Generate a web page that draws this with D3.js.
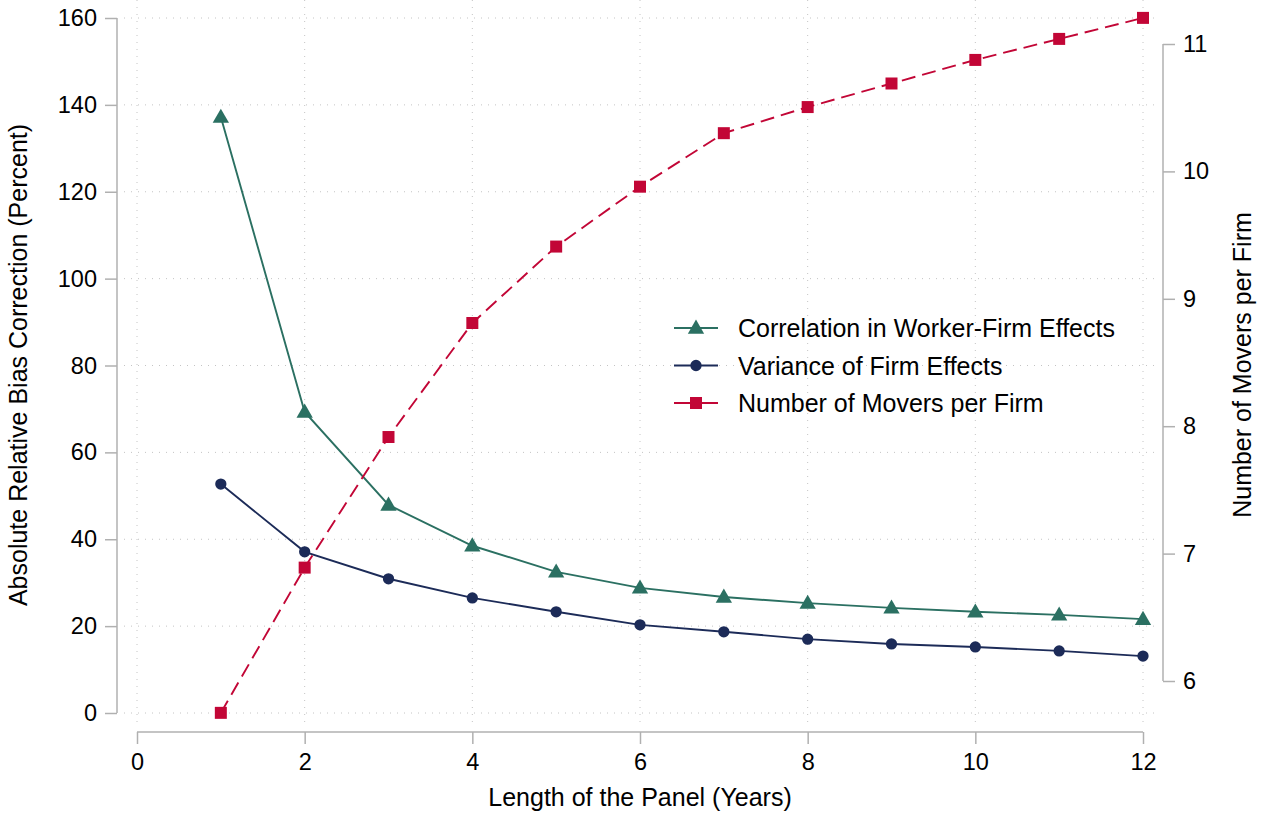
<!DOCTYPE html>
<html>
<head>
<meta charset="utf-8">
<script src="https://cdn.jsdelivr.net/npm/d3@7"></script>
<style>
  html, body { margin: 0; padding: 0; background: #fff; }
  svg { display: block; font-family: "Liberation Sans", Arial, sans-serif; }
</style>
</head>
<body>
<svg id="chart" width="1271" height="819"></svg>
<script>
// Panel length in years
const years = [1, 2, 3, 4, 5, 6, 7, 8, 9, 10, 11, 12];
// Absolute relative bias correction (percent), left axis
const corrWorkerFirm = [137.2, 69.3, 47.9, 38.5, 32.5, 28.8, 26.7, 25.3, 24.2, 23.3, 22.6, 21.6];
const varFirmEffects = [52.7, 37.1, 30.9, 26.5, 23.3, 20.3, 18.7, 17.0, 15.9, 15.2, 14.3, 13.1];
// Number of movers per firm, right axis
const moversPerFirm = [5.75, 6.89, 7.915, 8.81, 9.41, 9.88, 10.30, 10.505, 10.69, 10.875, 11.04, 11.205];

const xTicks = [0, 2, 4, 6, 8, 10, 12];
const yLeftTicks = [0, 20, 40, 60, 80, 100, 120, 140, 160];
const yRightTicks = [6, 7, 8, 9, 10, 11];

const seriesNames = ["Correlation in Worker-Firm Effects", "Variance of Firm Effects", "Number of Movers per Firm"];

const colGreen = "#2b7062", colNavy = "#1c2b58", colRed = "#c20636";
const axisCol = "#b0b0b0", gridCol = "#c4c4c4";
const tickFont = "23.5px", titleFont = "25px";

const svg = d3.select("#chart");

const x = d3.scaleLinear().domain([0, 12]).range([137, 1143]);
const yL = d3.scaleLinear().domain([0, 160]).range([713, 18]);
const yR = d3.scaleLinear().domain([6, 11]).range([681, 44]);

// dotted grid
const grid = svg.append("g");
grid.selectAll("line.h").data(yLeftTicks).join("line")
  .attr("x1", 124).attr("x2", 1160)
  .attr("y1", d => yL(d)).attr("y2", d => yL(d))
  .attr("stroke", gridCol).attr("stroke-width", 1).attr("stroke-dasharray", "1,6");
grid.selectAll("line.v").data(xTicks).join("line")
  .attr("x1", d => x(d)).attr("x2", d => x(d))
  .attr("y1", 0).attr("y2", 726)
  .attr("stroke", gridCol).attr("stroke-width", 1).attr("stroke-dasharray", "1,6");

// axes
function styleAxis(g) {
  g.attr("font-size", null).attr("font-family", null);
  g.select(".domain").attr("stroke", axisCol).attr("stroke-width", 1.5);
  g.selectAll(".tick line").attr("stroke", axisCol).attr("stroke-width", 1.5);
  g.selectAll(".tick text").attr("fill", "#000").style("font-size", tickFont);
}
svg.append("g").attr("transform", "translate(0,732)")
  .call(d3.axisBottom(x).tickValues(xTicks).tickSize(12).tickSizeOuter(0).tickPadding(8))
  .call(styleAxis)
  .call(g => g.select(".domain").attr("d", `M${x(0)},0H${x(12)}`))
  .call(g => g.selectAll(".tick text").attr("dy", null).attr("y", 38));
svg.append("g").attr("transform", "translate(117,0)")
  .call(d3.axisLeft(yL).tickValues(yLeftTicks).tickSize(12).tickSizeOuter(0).tickPadding(8))
  .call(styleAxis)
  .call(g => g.select(".domain").attr("d", `M0,${yL(0)}V${yL(160)}`));
svg.append("g").attr("transform", "translate(1163,0)")
  .call(d3.axisRight(yR).tickValues(yRightTicks).tickFormat(d3.format("d")).tickSize(12).tickSizeOuter(0).tickPadding(8))
  .call(styleAxis)
  .call(g => g.select(".domain").attr("d", `M0,${yR(6)}V${yR(11)}`));

// axis titles
const titleStyle = s => s.attr("fill", "#000").style("font-size", titleFont).attr("text-anchor", "middle");
svg.append("text").attr("x", 640).attr("y", 806).text("Length of the Panel (Years)").call(titleStyle);
svg.append("text").attr("transform", "translate(27,365) rotate(-90)").text("Absolute Relative Bias Correction (Percent)").call(titleStyle);
svg.append("text").attr("transform", "translate(1251,365) rotate(-90)").text("Number of Movers per Firm").call(titleStyle);

// series
const triangle = d3.symbol().type(d3.symbolTriangle).size(115);
const circle = d3.symbol().type(d3.symbolCircle).size(100);
const square = d3.symbol().type(d3.symbolSquare).size(144);

function drawSeries(values, yScale, color, sym, dash, dy) {
  const pts = years.map((yr, i) => [x(yr), yScale(values[i])]);
  svg.append("path").attr("d", d3.line()(pts))
    .attr("fill", "none").attr("stroke", color).attr("stroke-width", 1.9)
    .attr("stroke-dasharray", dash);
  svg.append("g").selectAll("path").data(pts).join("path")
    .attr("transform", d => `translate(${d[0]},${d[1] + dy})`)
    .attr("d", sym).attr("fill", color);
}
drawSeries(corrWorkerFirm, yL, colGreen, triangle, null, 1);
drawSeries(varFirmEffects, yL, colNavy, circle, null, 0);
drawSeries(moversPerFirm, yR, colRed, square, "14,7", 0);

// legend
const legendItems = [
  { name: seriesNames[0], color: colGreen, sym: triangle, dy: 1 },
  { name: seriesNames[1], color: colNavy, sym: circle, dy: 0 },
  { name: seriesNames[2], color: colRed, sym: square, dy: 0 }
];
const lg = svg.append("g").selectAll("g").data(legendItems).join("g")
  .attr("transform", (d, i) => `translate(674,${328 + i * 37.5})`);
lg.append("line").attr("x1", 0).attr("x2", 44).attr("y1", 0).attr("y2", 0)
  .attr("stroke", d => d.color).attr("stroke-width", 1.9);
lg.append("path").attr("d", d => d.sym()).attr("transform", d => `translate(22,${d.dy})`).attr("fill", d => d.color);
lg.append("text").attr("x", 64).attr("y", 9).text(d => d.name)
  .attr("fill", "#000").style("font-size", titleFont);
</script>
</body>
</html>
